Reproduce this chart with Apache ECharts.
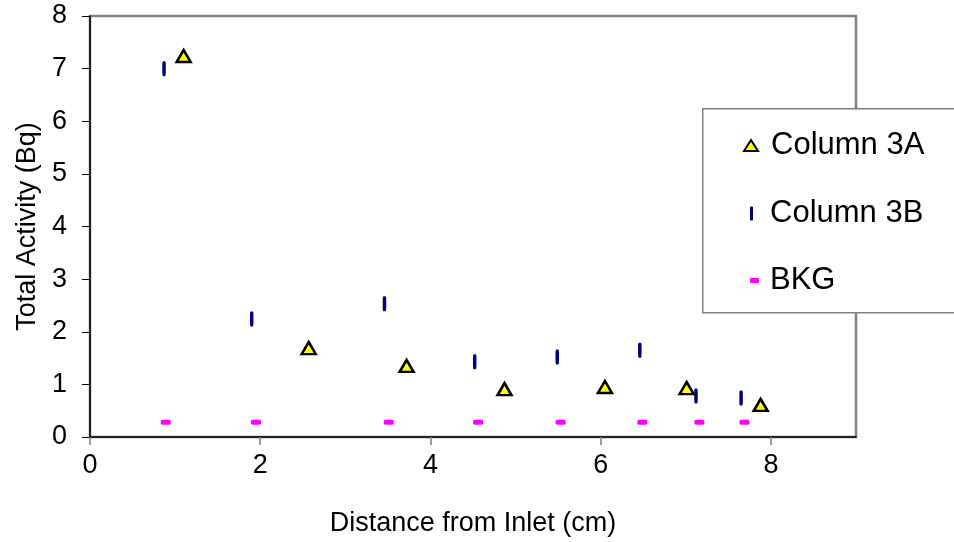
<!DOCTYPE html>
<html>
<head>
<meta charset="utf-8">
<script src="https://cdn.jsdelivr.net/npm/echarts@6/dist/echarts.min.js"></script>
<style>html,body{margin:0;padding:0;background:#fff;}#c{width:954px;height:542px;}</style>
</head>
<body>
<div id="c"></div>
<script>
const col3A_x = [1.10, 2.57, 3.72, 4.87, 6.05, 7.01, 7.88];
const col3A_y = [7.24, 1.69, 1.35, 0.91, 0.95, 0.93, 0.61];
const col3B_x = [0.87, 1.90, 3.46, 4.52, 5.49, 6.46, 7.12, 7.65];
const col3B_y = [7.00, 2.24, 2.53, 1.43, 1.52, 1.65, 0.78, 0.74];
const bkg_x = [0.89, 1.95, 3.51, 4.56, 5.53, 6.49, 7.16, 7.69];
const bkg_y = [0.28, 0.28, 0.28, 0.28, 0.28, 0.28, 0.28, 0.28];
const xTicks = [0, 2, 4, 6, 8];
const yTicks = [0, 1, 2, 3, 4, 5, 6, 7, 8];
const seriesNames = ['Column 3A', 'Column 3B', 'BKG'];

const zip = (xs, ys) => xs.map((x, i) => [x, ys[i]]);
const font = 'Liberation Sans, Arial, sans-serif';
const legendText = pad => ({fontFamily: font, fontSize: 31, color: '#000', padding: [0, 0, 0, pad]});
const chart = echarts.init(document.getElementById('c'), null, {renderer: 'canvas'});
chart.setOption({
  animation: false,
  backgroundColor: '#ffffff',
  grid: {left: 90, top: 16, right: 98, bottom: 104, show: true, borderColor: '#808080', borderWidth: 2.5, backgroundColor: 'transparent'},
  graphic: [{
    type: 'rect', z: 1, left: 702, top: 108,
    shape: {width: 260, height: 204},
    style: {fill: '#ffffff', stroke: '#808080', lineWidth: 1.5}
  }],
  legend: [
    {data: [seriesNames[0]], left: 743, top: 130, padding: 0, z: 5, itemWidth: 14, itemHeight: 11, textStyle: legendText(8)},
    {data: [seriesNames[1]], left: 750, top: 198, padding: 0, z: 5, itemWidth: 3, itemHeight: 14, textStyle: legendText(12)},
    {data: [seriesNames[2]], left: 750, top: 265, padding: 0, z: 5, itemWidth: 9, itemHeight: 5, textStyle: legendText(6)}
  ],
  xAxis: {
    type: 'value', min: 0, max: 9, interval: 1,
    name: 'Distance from Inlet (cm)', nameLocation: 'middle', nameGap: 73,
    nameTextStyle: {fontFamily: font, fontSize: 27, color: '#000'},
    axisLine: {show: true, onZero: false, lineStyle: {color: '#000', width: 1.5}},
    axisTick: {show: true, length: 8, lineStyle: {color: '#808080', width: 1.5}, customValues: xTicks},
    axisLabel: {fontFamily: font, fontSize: 27, color: '#000', margin: 15, customValues: xTicks,
      formatter: v => xTicks.includes(v) ? String(v) : ''},
    splitLine: {show: false}
  },
  yAxis: {
    type: 'value', min: 0, max: 8, interval: 1,
    name: 'Total Activity (Bq)', nameLocation: 'middle', nameGap: 49, nameRotate: 90,
    nameTextStyle: {fontFamily: font, fontSize: 27, color: '#000'},
    axisLine: {show: true, lineStyle: {color: '#000', width: 1.5}},
    axisTick: {show: true, length: 8, lineStyle: {color: '#000', width: 1}},
    axisLabel: {fontFamily: font, fontSize: 27, color: '#000', margin: 23,
      formatter: v => yTicks.includes(v) ? String(v) : ''},
    splitLine: {show: false}
  },
  series: [
    {
      name: seriesNames[0], type: 'scatter', z: 4,
      data: zip(col3A_x, col3A_y),
      symbol: 'triangle', symbolSize: [14, 12],
      itemStyle: {color: '#FFFF00', borderColor: '#000', borderWidth: 2.5, opacity: 1}
    },
    {
      name: seriesNames[1], type: 'scatter', z: 3,
      data: zip(col3B_x, col3B_y),
      symbol: 'roundRect', symbolSize: [3.5, 15],
      itemStyle: {color: '#000080', opacity: 1}
    },
    {
      name: seriesNames[2], type: 'scatter', z: 3,
      data: zip(bkg_x, bkg_y),
      symbol: 'roundRect', symbolSize: [10, 5],
      itemStyle: {color: '#FF00FF', opacity: 1}
    }
  ]
});
</script>
</body>
</html>
